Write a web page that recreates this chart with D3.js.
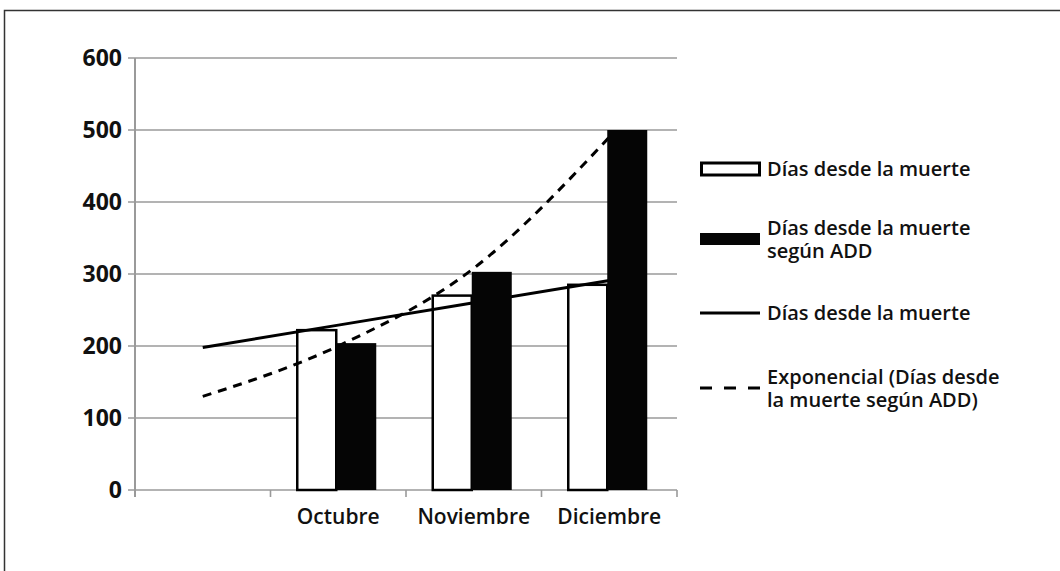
<!DOCTYPE html>
<html>
<head>
<meta charset="utf-8">
<script src="https://cdn.jsdelivr.net/npm/d3@7"></script>
<style>
  body { margin: 0; background: #fff; }
  svg { display: block; font-family: "Open Sans", sans-serif; }
  .axis-label { font-weight: 700; fill: #111; }
  .legend-label { font-weight: 600; fill: #111; }
</style>
</head>
<body>
<svg id="chart"></svg>
<script>
// first slot is an empty month, the trend lines start from it
const categories = ['', 'Octubre', 'Noviembre', 'Diciembre'];
const diasMuerte = [null, 222, 270, 285];
const diasADD = [null, 204, 303, 500];
const linearTrend = [198, 229, 260, 291];
const expTrend = [130, 200, 308, 490];
const yTicks = [0, 100, 200, 300, 400, 500, 600];

const legendItems = [
  {type: 'whiteBar', lines: ['Días desde la muerte']},
  {type: 'blackBar', lines: ['Días desde la muerte', 'según ADD']},
  {type: 'solid', lines: ['Días desde la muerte']},
  {type: 'dashed', lines: ['Exponencial (Días desde', 'la muerte según ADD)']}
];

class BarTrendChart {

  constructor(_config) {
    this.config = {
      parentElement: _config.parentElement,
      containerWidth: _config.containerWidth || 1060,
      containerHeight: _config.containerHeight || 571,
      margin: _config.margin || {top: 58, right: 383, bottom: 81, left: 135}
    }
    this.initVis();
  }

  initVis() {
    let vis = this;

    vis.width = vis.config.containerWidth - vis.config.margin.left - vis.config.margin.right;
    vis.height = vis.config.containerHeight - vis.config.margin.top - vis.config.margin.bottom;

    vis.svg = d3.select(vis.config.parentElement)
      .attr('width', vis.config.containerWidth)
      .attr('height', vis.config.containerHeight);

    // frame round the figure, only left and top show
    vis.svg.append('path')
      .attr('d', `M4.5,${vis.config.containerHeight} V10.5 H${vis.config.containerWidth}`)
      .attr('fill', 'none')
      .attr('stroke', '#333')
      .attr('stroke-width', 1.5);

    vis.chart = vis.svg.append('g')
      .attr('transform', `translate(${vis.config.margin.left},${vis.config.margin.top})`);

    vis.xScale = d3.scaleBand()
      .domain(categories)
      .range([0, vis.width])
      .padding(0);

    vis.yScale = d3.scaleLinear()
      .domain([0, 600])
      .range([vis.height, 0]);

    vis.updateVis();
  }

  updateVis() {
    let vis = this;
    vis.barData = categories.map((c, i) => ({cat: c, a: diasMuerte[i], b: diasADD[i]}))
      .filter(d => d.a != null);
    vis.renderVis();
  }

  renderVis() {
    let vis = this;
    const x = vis.xScale, y = vis.yScale;
    const cx = c => x(c) + x.bandwidth() / 2;

    // gridlines
    vis.chart.selectAll('.grid')
      .data(yTicks)
      .join('line')
      .attr('class', 'grid')
      .attr('x1', -7).attr('x2', vis.width)
      .attr('y1', d => y(d)).attr('y2', d => y(d))
      .attr('stroke', '#9a9a9a')
      .attr('stroke-width', 1.6);

    // y axis line
    vis.chart.append('line')
      .attr('x1', 0).attr('x2', 0)
      .attr('y1', 0).attr('y2', vis.height + 7)
      .attr('stroke', '#9a9a9a')
      .attr('stroke-width', 2);

    vis.chart.selectAll('.y-label')
      .data(yTicks)
      .join('text')
      .attr('class', 'axis-label y-label')
      .attr('x', -13)
      .attr('y', d => y(d))
      .attr('dy', '0.36em')
      .attr('text-anchor', 'end')
      .style('font-size', '23px')
      .text(d => d);

    // x ticks sit on band edges
    const edges = categories.map(c => x(c)).concat([vis.width]);
    vis.chart.selectAll('.x-tick')
      .data(edges)
      .join('line')
      .attr('class', 'x-tick')
      .attr('x1', d => d).attr('x2', d => d)
      .attr('y1', vis.height).attr('y2', vis.height + 7)
      .attr('stroke', '#9a9a9a')
      .attr('stroke-width', 1.6);

    vis.chart.selectAll('.x-label')
      .data(categories.filter(c => c))
      .join('text')
      .attr('class', 'axis-label x-label')
      .attr('x', d => cx(d))
      .attr('y', vis.height + 34)
      .attr('text-anchor', 'middle')
      .style('font-size', '21px')
      .style('font-weight', 600)
      .text(d => d);

    // white bars
    vis.chart.selectAll('.bar-a')
      .data(vis.barData)
      .join('rect')
      .attr('class', 'bar-a')
      .attr('x', d => cx(d.cat) - 41)
      .attr('width', 39)
      .attr('y', d => y(d.a))
      .attr('height', d => vis.height - y(d.a))
      .attr('fill', '#fff')
      .attr('stroke', '#000')
      .attr('stroke-width', 2.5);

    // trend lines
    const line = d3.line()
      .x((d, i) => cx(categories[i]))
      .y(d => y(d));

    vis.chart.append('path')
      .datum(linearTrend)
      .attr('d', line)
      .attr('fill', 'none')
      .attr('stroke', '#000')
      .attr('stroke-width', 3);

    vis.chart.append('path')
      .datum(expTrend)
      .attr('d', line.curve(d3.curveMonotoneX))
      .attr('fill', 'none')
      .attr('stroke', '#000')
      .attr('stroke-width', 3)
      .attr('stroke-dasharray', '9,7');

    // black bars
    vis.chart.selectAll('.bar-b')
      .data(vis.barData)
      .join('rect')
      .attr('class', 'bar-b')
      .attr('x', d => cx(d.cat) - 2)
      .attr('width', 40)
      .attr('y', d => y(d.b))
      .attr('height', d => vis.height - y(d.b))
      .attr('fill', '#050505');

    vis.renderLegend();
  }

  renderLegend() {
    let vis = this;
    const legY = [169, 239, 313, 388];
    const lineGap = 23;

    const items = vis.svg.selectAll('.legend')
      .data(legendItems)
      .join('g')
      .attr('class', 'legend')
      .attr('transform', (d, i) => `translate(700,${legY[i]})`);

    items.each(function(d) {
      const g = d3.select(this);
      if (d.type === 'whiteBar') {
        g.append('rect').attr('x', 1.5).attr('y', -6).attr('width', 58).attr('height', 12)
          .attr('fill', '#fff').attr('stroke', '#000').attr('stroke-width', 3);
      } else if (d.type === 'blackBar') {
        g.append('rect').attr('x', 0).attr('y', -6).attr('width', 60).attr('height', 12)
          .attr('fill', '#050505');
      } else {
        g.append('line').attr('x1', 0).attr('x2', 60).attr('y1', 0).attr('y2', 0)
          .attr('stroke', '#000').attr('stroke-width', 3)
          .attr('stroke-dasharray', d.type === 'dashed' ? '12,12' : null);
      }
      // one text element, lines as tspans
      const n = d.lines.length;
      const txt = g.append('text')
        .attr('class', 'legend-label')
        .attr('y', -(n - 1) / 2 * lineGap)
        .attr('dy', '0.35em')
        .style('font-size', '20px');
      txt.selectAll('tspan')
        .data(d.lines)
        .join('tspan')
        .attr('x', 67)
        .attr('dy', (t, j) => j === 0 ? '0.35em' : lineGap)
        .text(t => t);
    });
  }
}

new BarTrendChart({parentElement: '#chart'});
</script>
</body>
</html>
